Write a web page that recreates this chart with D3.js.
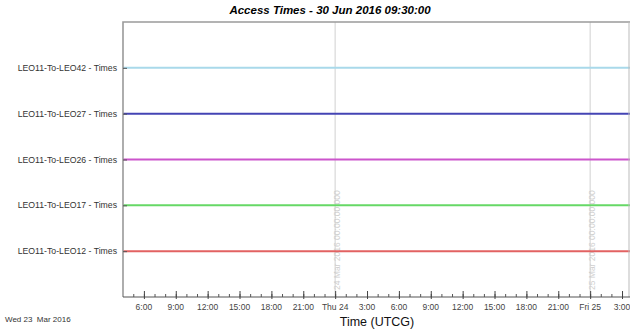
<!DOCTYPE html>
<html>
<head>
<meta charset="utf-8">
<script src="https://cdn.jsdelivr.net/npm/d3@7"></script>
<style>
  body { margin: 0; background: #fff; }
  text { font-family: Arial, "Liberation Sans", sans-serif; white-space: pre; }
</style>
</head>
<body>
<svg id="chart"></svg>
<script>
/* chart data */
const title = "Access Times - 30 Jun 2016 09:30:00";
const series = ["LEO11-To-LEO42 - Times", "LEO11-To-LEO27 - Times", "LEO11-To-LEO26 - Times",
                "LEO11-To-LEO17 - Times", "LEO11-To-LEO12 - Times"];
const colors = ["#a9d9ea", "#4444b4", "#cc55cc", "#66d866", "#e26262"];
const timeStart = "2016-03-23T04:02:00Z", timeEnd = "2016-03-25T03:45:00Z";
const dayLines = ["2016-03-24T00:00:00Z", "2016-03-25T00:00:00Z"];
const dayLabels = ["24 Mar 2016 00:00:00.000", "25 Mar 2016 00:00:00.000"];
const startLabel = "Wed 23  Mar 2016";
const xTitle = "Time (UTCG)";

const width = 630, height = 333, margin = { top: 22, right: 0, bottom: 36, left: 123 };
const svg = d3.select("#chart").attr("width", width).attr("height", height);

/* scales */
const x = d3.scaleUtc().domain([new Date(timeStart), new Date(timeEnd)]).range([margin.left, width - margin.right]);
const y = d3.scalePoint().domain(series).range([margin.top, height - margin.bottom]).padding(1);
const bottom = height - margin.bottom;

/* day grid lines */
svg.append("g").selectAll("line").data(dayLines).enter().append("line")
  .attr("x1", d => x(new Date(d))).attr("x2", d => x(new Date(d)))
  .attr("y1", margin.top).attr("y2", bottom)
  .attr("stroke", "#d8d8d8").attr("stroke-width", 1.2);

/* rotated day labels */
svg.append("g").selectAll("text").data(dayLines).enter().append("text")
  .attr("transform", d => `translate(${x(new Date(d)) + 5}, ${bottom - 7}) rotate(-90)`)
  .attr("font-size", 8.5).attr("fill", "#cfcfcf")
  .text((d, i) => dayLabels[i]);

/* series lines */
svg.append("g").selectAll("line").data(series).enter().append("line")
  .attr("x1", margin.left).attr("x2", width - margin.right)
  .attr("y1", d => y(d)).attr("y2", d => y(d))
  .attr("stroke", (d, i) => colors[i]).attr("stroke-width", 2);

/* frame */
svg.append("path")
  .attr("d", `M${margin.left},${bottom}V${margin.top}H${width}`)
  .attr("fill", "none").attr("stroke", "#9a9a9a").attr("stroke-width", 1.6);
svg.append("line").attr("x1", width - 1).attr("x2", width - 1).attr("y1", margin.top).attr("y2", bottom)
  .attr("stroke", "#bbb").attr("stroke-width", 1);
svg.append("line").attr("x1", margin.left).attr("x2", width).attr("y1", bottom).attr("y2", bottom)
  .attr("stroke", "#555").attr("stroke-width", 1.2);

/* y axis */
const yAxis = svg.append("g").attr("transform", `translate(${margin.left},0)`)
  .call(d3.axisRight(y).tickSize(4).tickPadding(0).tickFormat(""));
yAxis.select(".domain").remove();
yAxis.selectAll("line").attr("stroke", "#555");
svg.append("g").selectAll("text").data(series).enter().append("text")
  .attr("x", margin.left - 6).attr("y", d => y(d) + 3)
  .attr("text-anchor", "end").attr("font-size", 8.7).attr("fill", "#333")
  .text(d => d);

/* x axis: minor ticks every hour, major every 3 hours */
const minor = svg.append("g").attr("transform", `translate(0,${bottom})`)
  .call(d3.axisTop(x).ticks(d3.utcHour.every(1)).tickSize(3).tickFormat(""));
minor.select(".domain").remove();
minor.selectAll("line").attr("stroke", "#555");

const major = svg.append("g").attr("transform", `translate(0,${bottom})`)
  .call(d3.axisTop(x).ticks(d3.utcHour.every(3)).tickSize(6).tickFormat(""));
major.select(".domain").remove();
major.selectAll("line").attr("stroke", "#444").attr("y2", -6).attr("y1", 2);

const fmt = d => d.getUTCHours() === 0 ? d3.utcFormat("%a %-d")(d) : d3.utcFormat("%-H:00")(d);
svg.append("g").selectAll("text").data(x.ticks(d3.utcHour.every(3))).enter().append("text")
  .attr("x", d => x(d)).attr("y", bottom + 13)
  .attr("text-anchor", "middle").attr("font-size", 8.5).attr("fill", "#444")
  .text(fmt);

/* titles */
svg.append("text").attr("x", 330).attr("y", 14).attr("text-anchor", "middle")
  .attr("font-size", 11.5).attr("font-weight", "bold").attr("font-style", "italic").text(title);
svg.append("text").attr("x", 377).attr("y", 326).attr("text-anchor", "middle")
  .attr("font-size", 12.5).attr("fill", "#111").text(xTitle);
svg.append("text").attr("x", 5).attr("y", 322).attr("font-size", 8).attr("fill", "#333").text(startLabel);
</script>
</body>
</html>
